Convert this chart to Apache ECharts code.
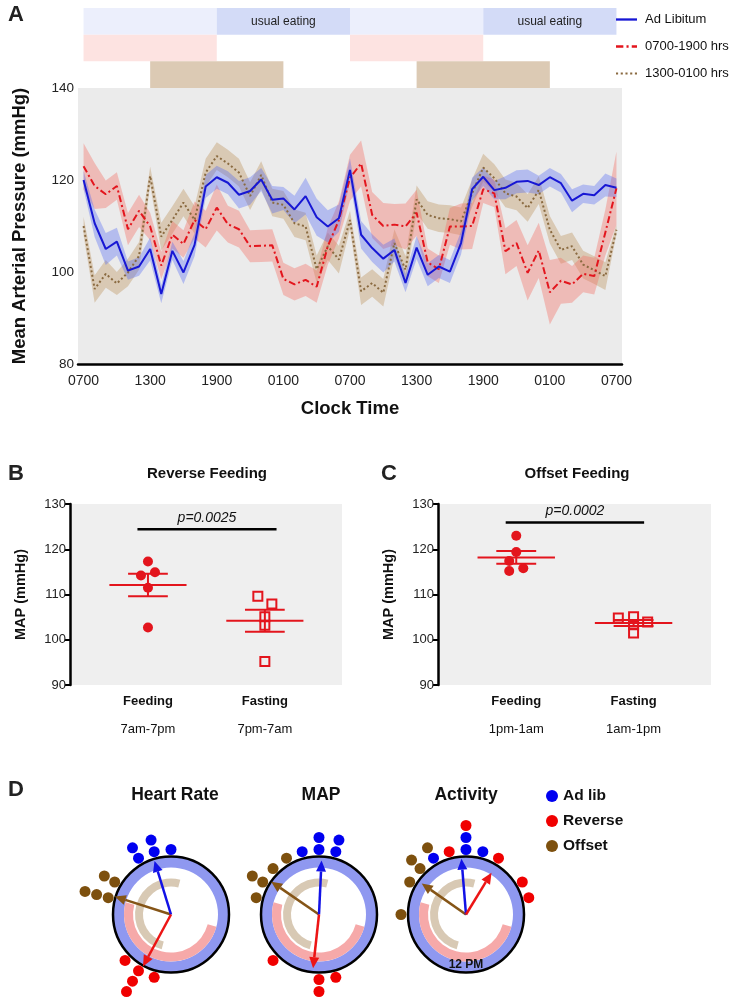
<!DOCTYPE html>
<html><head><meta charset="utf-8">
<script src="https://cdn.jsdelivr.net/npm/echarts@6/dist/echarts.min.js"></script>
<style>html,body{margin:0;padding:0;background:#fff}#c{width:740px;height:1000px}</style>
</head><body><div id="c"></div><script>
const FONT = '"Liberation Sans", Arial, Helvetica, sans-serif';

// ---------- Panel A : hourly MAP, 0700 day 1 -> 0700 day 3 ----------
const clockTimes = [];
for (let h = 0; h <= 48; h++) { const c = (7 + h) % 24; clockTimes.push((c < 10 ? '0' : '') + c + '00'); }

const adLib = [120,110.6,105,106.6,100.3,101.2,105,95.2,104.6,99.9,105.9,118.6,120.6,119.4,116.8,117.6,120.1,115.7,116,113.6,116.5,111.9,109.9,111.7,122.2,
  108.1,105.2,102.9,104.8,97.6,105.3,99.4,101.2,100.1,106.3,118,120.7,117.8,118.3,119.6,119.8,118.9,120.6,119.3,115.5,117,116.7,118.9,118.3];
const adLibSem = [2,3,3.5,3,2,2,2.5,2,2,2.5,2.5,2.5,2.5,2.5,3,3,2.5,3,2.5,3,4,4,3.5,3,2.5,3,3,3,2.5,2,2.5,2.5,2.5,2.5,2.5,2.5,2,2,2.5,2.5,2.5,2,2,2,2.5,2,2,2.5,2];
const reverse = [123,118.7,116.9,118.7,109.3,113.3,109.9,101.4,108.1,106.1,111.3,109.3,114,110.4,109.3,105.6,105.7,105.8,98.5,97.3,98.3,96.8,105.6,111.3,120.5,
  123.6,112.4,110,110.3,109.9,112.9,102.1,100.6,109.9,109.9,110,118,117.1,104.5,106.3,99.8,104.7,95.6,98.1,97.3,99.6,99.1,108.6,118.2];
const reverseSem = [5,5,3,3,3.5,3.5,3,3,3,3,4,4,5,4,4,3.5,3.5,3.5,3.5,3.5,3.5,3.5,4,4,5,5,5,5,4.5,5,5,3,3,4,5,5,3,3,5,5,6,6,7,5,4,4,4,5,8];
const offset = [110,96.3,99.6,97.5,99.9,103.5,120.9,107.7,111.3,115.1,111.3,121.6,125.2,123.6,121.6,116.5,121.1,115.1,114.6,110.6,109.9,100.6,105.6,102.7,111.3,
  95.8,97.6,95.5,106.3,100.5,115.8,112.4,111.7,111.5,111,117.1,122.7,120.4,117.1,116.4,113.9,117.8,109.2,104.8,105.6,101.6,100.4,99.1,109.2];
const offsetSem = [2,3,3,2.5,3,3,2,3,3,3,3,3,3,3,3,3,3,3,3,3,3,3,3,3,2,3,3,3,3,3,3,3,3,3,3,3,3,3,3,3,3,3,3,3,3,3,3,3,1];

// feeding-schedule blocks: [startHour, endHour, row, kind]
const scheduleBlocks = [
  [0,12,0,'adlibRest'],[12,24,0,'adlibEat'],[24,36,0,'adlibRest'],[36,48,0,'adlibEat'],
  [0,12,1,'reverse'],[24,36,1,'reverse'],
  [6,18,2,'offset'],[30,42,2,'offset']];

// ---------- Panels B, C ----------
const groupNames = ['Feeding','Fasting'];
const revWindows = ['7am-7pm','7pm-7am'];
const offWindows = ['1pm-1am','1am-1pm'];
const revFeed = [117.3,114.2,114.9,111.5,102.7];
const revFeedJit = [0,-0.06,0.06,0,0];
const revFast = [109.6,107.9,105.1,103.2,95.2];
const revFastJit = [-0.06,0.06,0,0,0];
const revStats = [[0,112.1,2.5],[1,104.2,2.45]];     // [group, mean, sem]
const revP = [-0.09,1.10,124.4,'p=0.0025'];
const offFeed = [123.0,119.4,117.4,115.2,115.8];
const offFeedJit = [0,0,-0.06,-0.06,0.06];
const offFast = [104.8,105.1,103.3,101.5,103.9];
const offFastJit = [-0.13,0,0,0,0.12];
const offStats = [[0,118.2,1.4],[1,103.7,0.65]];
const offP = [-0.09,1.09,125.9,'p=0.0002'];

// ---------- Panel D : 24-h clocks (radius, hour) ----------
const clockTitles = ['Heart Rate','MAP','Activity'];
const ringArcs = [[47,58,0,24,'adlib'],[38,47,7,19,'reverse'],[28,36,13,25,'offset']]; // [r0, r1, startHour, endHour]
const adLibDots = [[[65,22],[77,22],[65,23],[77,23],[65,0]],[[65,23],[65,0],[77,0],[65,1],[77,1]],[[65,0],[77,0],[65,22],[65,1]]];
const reverseDots = [[[65,15],[65,14],[77,14],[89,14],[65,13]],[[65,15],[65,12],[65,11],[77,12]],[[89,0],[65,23],[65,2],[65,4],[65,5]]];
const offsetDots = [[[65,20],[77,20],[65,19],[77,19],[89,19]],[[65,22],[65,21],[65,20],[77,20],[65,19]],[[77,22],[77,21],[65,21],[65,20],[65,18]]];
const adLibArrow = [[56,22.86],[54,0.18],[56,23.69]];
const reverseArrow = [[59,13.89],[54,12.42],[49,2.09]];
const offsetArrow = [[59,19.18],[58,20.3],[54,20.33]];

// ---------- styling ----------
const C_BLUE = '#1717d4', C_RED = '#e3151d', C_BROWN = '#8a6a40';
const blockColors = {adlibRest:'#eceffc', adlibEat:'#d3dbf7', reverse:'#fde3e1', offset:'#dccab4'};
const ringColors = {adlib:'#8f98f0', reverse:'#f6a9a9', offset:'#d8c9b4'};
const dotColors = {adlib:'#0000f0', reverse:'#f00000', offset:'#7d500e'};
const arrowColors = {adlib:'#1212e6', reverse:'#ec1515', offset:'#855517'};
const ICON_SOLID = 'path://M0,0h20v2.2h-20z';
const ICON_DASHDOT = 'path://M0,0h7v2.2h-7zM10,0h2v2.2h-2zM15,0h5v2.2h-5z';
const ICON_DOT = 'path://M0,0h2v2h-2zM4.5,0h2v2h-2zM9,0h2v2h-2zM13.5,0h2v2h-2zM18,0h2v2h-2z';

const chart = echarts.init(document.getElementById('c'));

function bandSeries(name, vals, sem, color) {
  return [
    {type:'line', name:name+'_lo', stack:name, xAxisIndex:0, yAxisIndex:0, data: vals.map((v,i)=>+(v-sem[i]).toFixed(2)),
      symbol:'none', lineStyle:{opacity:0}, silent:true, z:1},
    {type:'line', name:name+'_hi', stack:name, xAxisIndex:0, yAxisIndex:0, data: sem.map(s=>2*s),
      symbol:'none', lineStyle:{opacity:0}, areaStyle:{color, opacity:1}, silent:true, z:1}
  ];
}

function meanSemItem(params, api) {
  const x = api.value(0), m = api.value(1), s = api.value(2);
  const seg = (a,b,c,d) => { const p=api.coord([a,b]), q=api.coord([c,d]); return {type:'line', shape:{x1:p[0],y1:p[1],x2:q[0],y2:q[1]}, style:{stroke:C_RED,lineWidth:2}}; };
  return {type:'group', children:[
    seg(x-0.33,m,x+0.33,m), seg(x-0.17,m+s,x+0.17,m+s), seg(x-0.17,m-s,x+0.17,m-s), seg(x,m-s,x,m+s)]};
}
function pBarItem(params, api) {
  const p = api.coord([api.value(0), api.value(2)]), q = api.coord([api.value(1), api.value(2)]);
  return {type:'group', children:[
    {type:'line', shape:{x1:p[0],y1:p[1],x2:q[0],y2:q[1]}, style:{stroke:'#000',lineWidth:2.5}},
    {type:'text', x:(p[0]+q[0])/2, y:p[1]-11, style:{text:api.value(3), font:'italic 14px '+FONT, fill:'#111', align:'center', verticalAlign:'middle'}}]};
}
function ringItem(params, api) {
  const cs = params.coordSys, cx = cs.cx, cy = cs.cy;
  const r0v = api.value(0), r1v = api.value(1), a0 = api.value(2), a1 = api.value(3);
  const p0 = api.coord([r1v, a0]), p1 = api.coord([r1v, a1]), pi = api.coord([r0v, a0]);
  const r = Math.hypot(p0[0]-cx, p0[1]-cy), r0 = Math.hypot(pi[0]-cx, pi[1]-cy);
  const s = Math.atan2(p0[1]-cy, p0[0]-cx); let e = Math.atan2(p1[1]-cy, p1[0]-cx);
  while (e <= s + 1e-6) e += Math.PI*2;
  return {type:'sector', shape:{cx, cy, r0, r, startAngle:s, endAngle:e, clockwise:true}, style:{fill:ringColors[api.value(4)]}};
}
function arrowItem(color) {
  return function(params, api) {
    const tip = api.coord([api.value(0), api.value(1)]);
    const c = api.coord([0, api.value(1)]);
    const dx = tip[0]-c[0], dy = tip[1]-c[1], L = Math.hypot(dx,dy), ux = dx/L, uy = dy/L;
    const hl = 11, hw = 5, bx = tip[0]-ux*hl, by = tip[1]-uy*hl;
    return {type:'group', children:[
      {type:'line', shape:{x1:c[0],y1:c[1],x2:bx,y2:by}, style:{stroke:color,lineWidth:2.5}},
      {type:'polygon', shape:{points:[tip,[bx-uy*hw,by+ux*hw],[bx+uy*hw,by-ux*hw]]}, style:{fill:color}}]};
  };
}

const axisBlack = {lineStyle:{color:'#000', width:2.5}, onZero:false};
const tickBlack = {lineStyle:{color:'#000', width:2}, length:5};

const series = [];
// schedule blocks
series.push({type:'custom', xAxisIndex:1, yAxisIndex:1, silent:true,
  data: scheduleBlocks,
  renderItem(params, api) {
    const p0 = api.coord([api.value(0), api.value(2)]), p1 = api.coord([api.value(1), api.value(2)+1]);
    const kind = scheduleBlocks[params.dataIndex][3];
    const el = {type:'rect', shape:{x:p0[0], y:Math.min(p0[1],p1[1]), width:p1[0]-p0[0], height:Math.abs(p1[1]-p0[1])}, style:{fill:blockColors[kind]}};
    if (kind === 'adlibEat') { el.textContent = {style:{text:'usual eating', font:'12px '+FONT, fill:'#222'}}; el.textConfig = {position:'inside'}; }
    return el;
  }});
series.push(...bandSeries('off', offset, offsetSem, 'rgba(196,160,112,0.45)'));
series.push(...bandSeries('rev', reverse, reverseSem, 'rgba(245,110,100,0.38)'));
series.push(...bandSeries('ad', adLib, adLibSem, 'rgba(70,95,245,0.33)'));
series.push({type:'line', name:'1300-0100 hrs', xAxisIndex:0, yAxisIndex:0, data:offset, symbol:'none', color:C_BROWN, lineStyle:{color:C_BROWN, width:2, type:[2,2.5]}, z:3});
series.push({type:'line', name:'0700-1900 hrs', xAxisIndex:0, yAxisIndex:0, data:reverse, symbol:'none', color:C_RED, lineStyle:{color:C_RED, width:2, type:[7,3,2,3]}, z:4});
series.push({type:'line', name:'Ad Libitum', xAxisIndex:0, yAxisIndex:0, data:adLib, symbol:'none', color:C_BLUE, lineStyle:{color:C_BLUE, width:2}, z:5});

// panels B and C
[[2, revFeed, revFeedJit, revFast, revFastJit, revStats, revP],[3, offFeed, offFeedJit, offFast, offFastJit, offStats, offP]].forEach(([ix, fd, fj, fs, sj, st, pp]) => {
  series.push({type:'scatter', xAxisIndex:ix, yAxisIndex:ix, data: fd.map((v,i)=>[0+fj[i], v]), symbol:'circle', symbolSize:10, itemStyle:{color:C_RED, opacity:1}, z:5});
  series.push({type:'scatter', xAxisIndex:ix, yAxisIndex:ix, data: fs.map((v,i)=>[1+sj[i], v]), symbol:'rect', symbolSize:9, itemStyle:{color:'rgba(0,0,0,0)', borderColor:C_RED, borderWidth:2, opacity:1}, z:5});
  series.push({type:'custom', xAxisIndex:ix, yAxisIndex:ix, data: st, renderItem: meanSemItem, z:4, silent:true});
  series.push({type:'custom', xAxisIndex:ix, yAxisIndex:ix, data: [pp], renderItem: pBarItem, z:4, silent:true});
});

// panel D
for (let k = 0; k < 3; k++) {
  series.push({type:'custom', coordinateSystem:'polar', polarIndex:k, data: ringArcs, renderItem: ringItem, silent:true, z:1});
  series.push({type:'custom', coordinateSystem:'polar', polarIndex:k, data:[offsetArrow[k]], renderItem: arrowItem(arrowColors.offset), silent:true, z:6});
  series.push({type:'custom', coordinateSystem:'polar', polarIndex:k, data:[adLibArrow[k]], renderItem: arrowItem(arrowColors.adlib), silent:true, z:6});
  series.push({type:'custom', coordinateSystem:'polar', polarIndex:k, data:[reverseArrow[k]], renderItem: arrowItem(arrowColors.reverse), silent:true, z:6});
  series.push({type:'scatter', name:'Ad lib', coordinateSystem:'polar', polarIndex:k, data: adLibDots[k], symbolSize:11, itemStyle:{color:dotColors.adlib, opacity:1}, clip:false, z:8});
  series.push({type:'scatter', name:'Reverse', coordinateSystem:'polar', polarIndex:k, data: reverseDots[k], symbolSize:11, itemStyle:{color:dotColors.reverse, opacity:1}, clip:false, z:8});
  series.push({type:'scatter', name:'Offset', coordinateSystem:'polar', polarIndex:k, data: offsetDots[k], symbolSize:11, itemStyle:{color:dotColors.offset, opacity:1}, clip:false, z:8});
}

const clockCenters = [[171, 914.5],[319, 914.5],[466, 914.5]];

function groupAxis(ix, windows) {
  return {type:'value', gridIndex:ix, min:-0.667, max:1.66,
    axisLine:{show:false}, splitLine:{show:false},
    axisTick:{show:false},
    axisLabel:{customValues:[0,1], margin:7, color:'#111',
      formatter:(v)=>{ const i = Math.round(v); return '{a|'+groupNames[i]+'}\n{b|'+windows[i]+'}'; },
      rich:{a:{fontFamily:FONT, fontWeight:'bold', fontSize:13, lineHeight:18, color:'#111'}, b:{fontFamily:FONT, fontSize:13, lineHeight:38, color:'#111'}}}};
}
function mapAxis(ix) {
  return {type:'value', gridIndex:ix, min:90, max:130, interval:10, name:'MAP (mmHg)', nameLocation:'middle', nameGap:42,
    nameTextStyle:{fontFamily:FONT, fontWeight:'bold', fontSize:14.5, color:'#111'},
    axisLine:axisBlack, axisTick:tickBlack, splitLine:{show:false},
    axisLabel:{fontFamily:FONT, fontSize:13, color:'#222', margin:4}};
}

const option = {
  animation:false,
  textStyle:{fontFamily:FONT},
  grid:[
    {left:78, top:88, width:544, height:276, show:true, backgroundColor:'#ebebeb', borderWidth:0},
    {left:78, top:8, width:544, height:80, show:false},
    {left:70, top:504, width:272, height:181, show:true, backgroundColor:'#efefef', borderWidth:0},
    {left:438, top:504, width:273, height:181, show:true, backgroundColor:'#efefef', borderWidth:0}
  ],
  xAxis:[
    {type:'category', gridIndex:0, data:clockTimes, boundaryGap:true, name:'Clock Time', nameLocation:'middle', nameGap:35,
      nameTextStyle:{fontFamily:FONT, fontWeight:'bold', fontSize:18.5, color:'#111'},
      axisLine:axisBlack, axisTick:Object.assign({interval:5, alignWithLabel:true}, tickBlack),
      axisLabel:{interval:5, fontFamily:FONT, fontSize:14, color:'#222', margin:10}, splitLine:{show:false}},
    {type:'value', gridIndex:1, min:-0.5, max:48.5, show:false},
    groupAxis(2, revWindows),
    groupAxis(3, offWindows)
  ],
  yAxis:[
    {type:'value', gridIndex:0, min:80, max:140, interval:20, name:'Mean Arterial Pressure (mmHg)', nameLocation:'middle', nameGap:49,
      nameTextStyle:{fontFamily:FONT, fontWeight:'bold', fontSize:18.5, color:'#111'},
      axisLine:axisBlack, axisTick:tickBlack, splitLine:{show:false},
      axisLabel:{fontFamily:FONT, fontSize:13.5, color:'#222', margin:4}},
    {type:'value', gridIndex:1, min:0, max:3, inverse:true, show:false},
    mapAxis(2), mapAxis(3)
  ],
  polar: clockCenters.map(c => ({center:c, radius:58})),
  angleAxis: [0,1,2].map(k => ({polarIndex:k, type:'value', min:0, max:24, startAngle:90, clockwise:true, z:5,
    axisLine:{lineStyle:{color:'#000', width:2.5}}, axisTick:{show:false}, axisLabel:{show:false}, splitLine:{show:false}})),
  radiusAxis: [0,1,2].map(k => ({polarIndex:k, type:'value', min:0, max:58, axisLine:{show:false}, axisTick:{show:false}, axisLabel:{show:false}, splitLine:{show:false}})),
  legend:[
    {data:[{name:'Ad Libitum', icon:ICON_SOLID},{name:'0700-1900 hrs', icon:ICON_DASHDOT},{name:'1300-0100 hrs', icon:ICON_DOT}],
      orient:'vertical', left:616, top:13, padding:0, itemWidth:21, itemHeight:14, itemGap:14,
      textStyle:{fontFamily:FONT, fontSize:13, color:'#111', padding:[0,0,0,3]}, selectedMode:false},
    {data:['Ad lib','Reverse','Offset'], orient:'vertical', left:546, top:788, padding:0, itemWidth:12, itemHeight:12, itemGap:9, icon:'circle',
      textStyle:{fontFamily:FONT, fontSize:15.5, fontWeight:'bold', color:'#111'}, selectedMode:false}
  ],
  graphic:[
    {type:'text', x:8, y:15, style:{text:'A', font:'bold 22px '+FONT, fill:'#222', verticalAlign:'middle'}},
    {type:'text', x:8, y:474, style:{text:'B', font:'bold 22px '+FONT, fill:'#222', verticalAlign:'middle'}},
    {type:'text', x:381, y:474, style:{text:'C', font:'bold 22px '+FONT, fill:'#222', verticalAlign:'middle'}},
    {type:'text', x:8, y:790, style:{text:'D', font:'bold 22px '+FONT, fill:'#222', verticalAlign:'middle'}},
    {type:'text', x:207, y:474, style:{text:'Reverse Feeding', font:'bold 15px '+FONT, fill:'#111', align:'center', verticalAlign:'middle'}},
    {type:'text', x:577, y:474, style:{text:'Offset Feeding', font:'bold 15px '+FONT, fill:'#111', align:'center', verticalAlign:'middle'}},
    {type:'text', x:175, y:795, style:{text:clockTitles[0], font:'bold 17.5px '+FONT, fill:'#111', align:'center', verticalAlign:'middle'}},
    {type:'text', x:321, y:795, style:{text:clockTitles[1], font:'bold 17.5px '+FONT, fill:'#111', align:'center', verticalAlign:'middle'}},
    {type:'text', x:466, y:795, style:{text:clockTitles[2], font:'bold 17.5px '+FONT, fill:'#111', align:'center', verticalAlign:'middle'}},
    {type:'text', x:466, y:965, z:100, style:{text:'12 PM', font:'bold 12px '+FONT, fill:'#111', align:'center', verticalAlign:'middle'}}
  ],
  series
};
chart.setOption(option);
</script></body></html>
